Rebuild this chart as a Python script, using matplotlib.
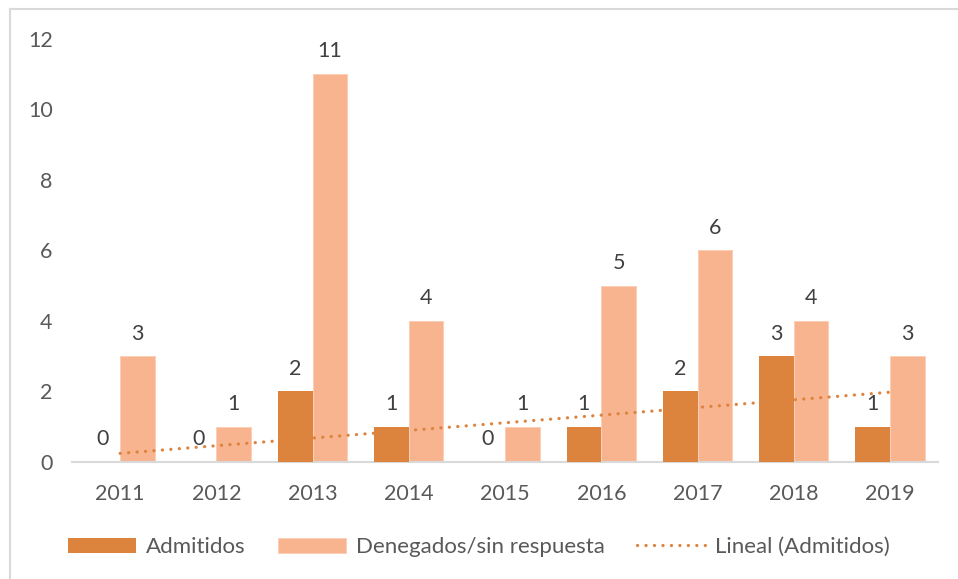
import numpy as np
import matplotlib.pyplot as plt
from matplotlib.lines import Line2D

years = ["2011", "2012", "2013", "2014", "2015", "2016", "2017", "2018", "2019"]
admitidos = [0, 0, 2, 1, 0, 1, 2, 3, 1]
denegados = [3, 1, 11, 4, 1, 5, 6, 4, 3]

dark = "#DC833E"
light = "#F8B48F"
txt = "#595959"
fs = 15.5

plt.rcParams['font.family'] = ['Lato', 'DejaVu Sans']

fig = plt.figure(figsize=(9.58, 5.79), dpi=100)
ax = fig.add_axes([0.0752, 0.2021, 0.904, 0.7314])

x = np.arange(len(years))
w = 0.36
b1 = ax.bar(x - w / 2, admitidos, w, color=dark, zorder=3, label="Admitidos")
b2 = ax.bar(x + w / 2, denegados, w, color=light, edgecolor="#FBCDB3", linewidth=0.6,
            zorder=1, label="Denegados/sin respuesta")

# linear trend of Admitidos
coef = np.polyfit(x + 1, admitidos, 1)
trend = np.polyval(coef, x + 1)
ln, = ax.plot(x, trend, color=dark, lw=2.3, linestyle=(0, (0.05, 2.6)),
              dash_capstyle="round", zorder=2, label="Lineal (Admitidos)")

for xi, v in zip(x, admitidos):
    ax.annotate(str(v), (xi - w / 2, v), xytext=(0, 9), textcoords="offset points",
                ha="center", va="bottom", fontsize=fs, color="#404040", zorder=5)
for xi, v in zip(x, denegados):
    ax.annotate(str(v), (xi + w / 2, v), xytext=(0, 9), textcoords="offset points",
                ha="center", va="bottom", fontsize=fs, color="#404040", zorder=5)

ax.set_xlim(-0.5, len(years) - 0.5)
ax.set_ylim(0, 12)
ax.set_yticks(range(0, 13, 2))
ax.set_xticks(x)
ax.set_xticklabels(years)
ax.tick_params(axis="both", length=0, labelsize=fs, labelcolor=txt)
ax.tick_params(axis="y", pad=14)
ax.tick_params(axis="x", pad=16)
for s in ["top", "right", "left"]:
    ax.spines[s].set_visible(False)
ax.spines["bottom"].set_color("#D9D9D9")
ax.spines["bottom"].set_linewidth(1.5)

fig.legend(handles=[b1, b2, ln], loc="center", bbox_to_anchor=(0.5, 1 - 547 / 579),
           ncol=3, frameon=False, fontsize=16, labelcolor=txt,
           handlelength=3.05, handleheight=0.65, columnspacing=1.45, handletextpad=0.45)

# chart frame (only left and top edges fall inside the image)
fig.add_artist(Line2D([10 / 958, 10 / 958], [-0.1, 570 / 579], transform=fig.transFigure,
                      color="#D9D9D9", lw=1.5))
fig.add_artist(Line2D([10 / 958, 1.1], [570 / 579, 570 / 579], transform=fig.transFigure,
                      color="#D9D9D9", lw=1.5))

fig.savefig("out.png", dpi=100)
